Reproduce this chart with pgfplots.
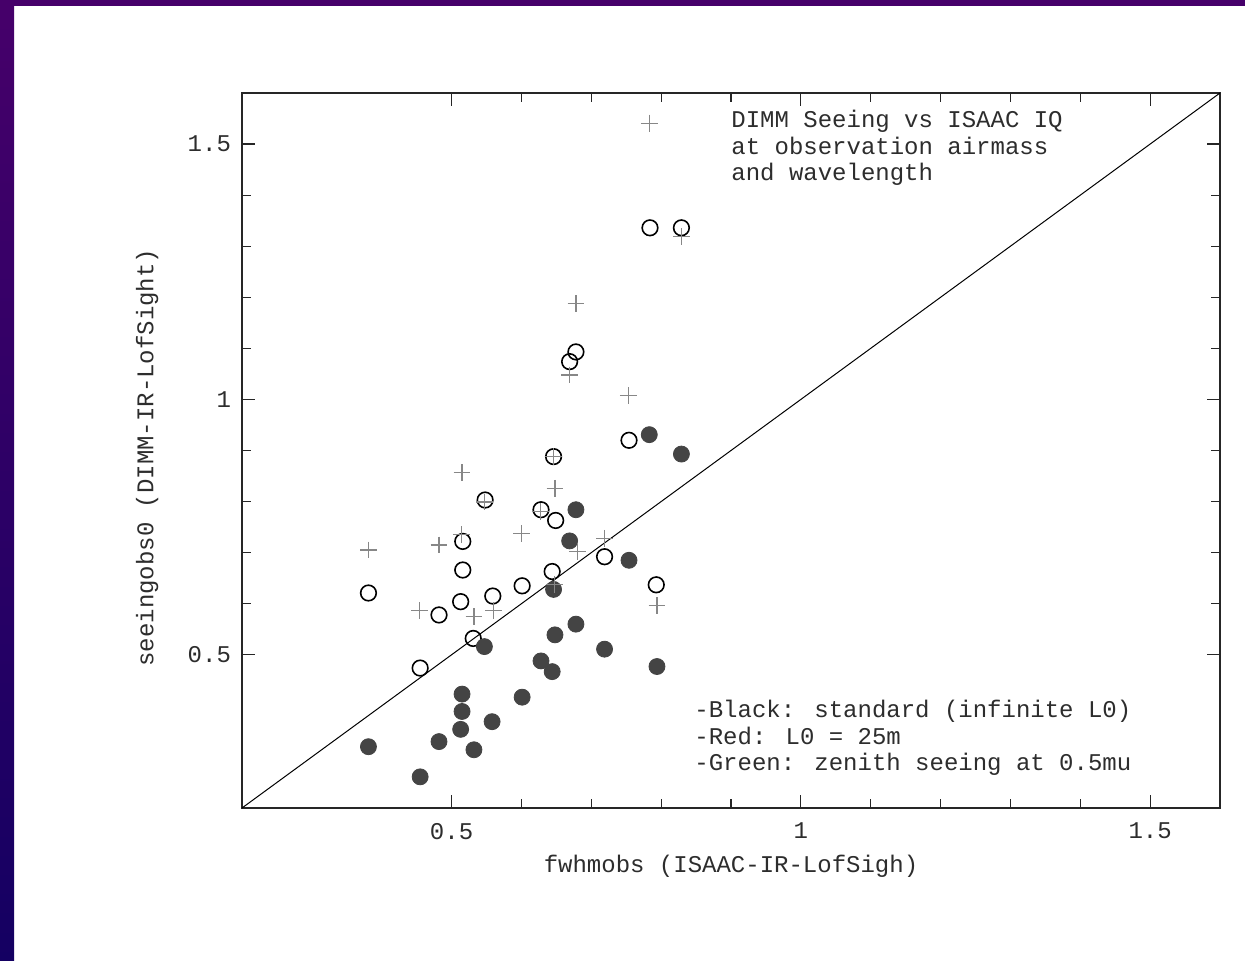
\documentclass[border=0pt]{standalone}
\usepackage{fontspec}
\setmainfont{Liberation Mono}
\usepackage{pgfplots}
\pgfplotsset{compat=1.18}
\definecolor{framepurple}{RGB}{70,0,106}
\definecolor{framenavy}{RGB}{20,0,98}
\definecolor{fillgray}{RGB}{68,68,68}
\definecolor{plusgray}{RGB}{135,135,135}
\definecolor{txt}{RGB}{45,45,45}
\begin{document}
\begin{tikzpicture}
\fill[white] (0pt,0pt) rectangle (622.5pt,480.5pt);
\shade[top color=framepurple, bottom color=framenavy] (0pt,0pt) rectangle (7pt,480.5pt);
\fill[framepurple] (0pt,477.5pt) rectangle (622.5pt,480.5pt);
\begin{axis}[
  at={(121pt,76.5pt)}, anchor=south west,
  scale only axis, width=489pt, height=357.5pt,
  xmin=0.2, xmax=1.6, ymin=0.2, ymax=1.6,
  xtick={0.5,1,1.5}, xticklabels={0.5,1,1.5},
  ytick={0.5,1,1.5}, yticklabels={0.5,1,1.5},
  minor x tick num=4, minor y tick num=4,
  tick align=inside,
  major tick length=6.5pt, minor tick length=4.3pt,
  axis line style={line width=1pt, black!85},
  every tick/.style={black!85, line width=0.6pt},
  tick label style={font=\fontsize{12}{13}\selectfont, text=txt},
  xticklabel style={yshift=-4pt},
  yticklabel style={xshift=-2pt},
  label style={font=\fontsize{12}{13}\selectfont, text=txt},
  xlabel={fwhmobs (ISAAC-IR-LofSigh)},
  xlabel style={at={(axis description cs:0.5,-0.081)}, anchor=center},
  ylabel={seeingobs0 (DIMM-IR-LofSight)},
  ylabel style={at={(axis description cs:-0.097,0.49)}, anchor=center},
  clip=false,
]
\addplot[black, line width=0.5pt] coordinates {(0.2,0.2) (1.6,1.6)};
% open circles
\addplot[only marks, mark=o, mark size=3.9pt, mark options={black, line width=0.8pt}] coordinates {
(0.381,0.621) (0.455,0.474) (0.482,0.578) (0.513,0.604) (0.516,0.666)
(0.516,0.722) (0.531,0.532) (0.548,0.803) (0.559,0.615) (0.601,0.635)
(0.628,0.784) (0.644,0.663) (0.649,0.763) (0.646,0.888) (0.669,1.074)
(0.678,1.093) (0.719,0.692) (0.754,0.920) (0.784,1.336) (0.829,1.336)
(0.793,0.637)
};
% filled circles
\addplot[only marks, mark=*, mark size=4pt, mark options={fillgray, draw=fillgray}] coordinates {
(0.381,0.320) (0.455,0.261) (0.482,0.330) (0.515,0.423) (0.515,0.389)
(0.513,0.354) (0.532,0.314) (0.547,0.516) (0.558,0.369) (0.601,0.417)
(0.628,0.488) (0.644,0.467) (0.646,0.628) (0.648,0.539) (0.669,0.723)
(0.678,0.784) (0.678,0.560) (0.719,0.511) (0.754,0.685) (0.783,0.931)
(0.794,0.477) (0.829,0.893)
};
% plus signs
\addplot[only marks, mark=+, mark size=4.2pt, mark options={plusgray, line width=0.6pt}] coordinates {
(0.381,0.705) (0.454,0.586) (0.482,0.715) (0.514,0.735) (0.515,0.857)
(0.532,0.575) (0.547,0.799) (0.560,0.586) (0.600,0.737) (0.627,0.781)
(0.646,0.888) (0.648,0.826) (0.647,0.638) (0.669,1.048) (0.678,1.188)
(0.680,0.703) (0.719,0.728) (0.753,1.007) (0.783,1.541) (0.794,0.596)
(0.829,1.319)
};
\end{axis}
\begin{scope}[every node/.style={font=\fontsize{12}{13}\selectfont, text=txt, inner sep=0pt, anchor=base west}]
\node at (365.5pt,416.5pt) {DIMM Seeing vs ISAAC IQ};
\node at (365.5pt,403pt) {at observation airmass};
\node at (365.5pt,390pt) {and wavelength};
\node at (347pt,121.5pt) {-Black: standard (infinite L0)};
\node at (347pt,108pt) {-Red: L0 = 25m};
\node at (347pt,95pt) {-Green: zenith seeing at 0.5mu};
\end{scope}
\pgfresetboundingbox
\path[use as bounding box] (0pt,0pt) rectangle (622.5pt,480.5pt);
\end{tikzpicture}
\end{document}
